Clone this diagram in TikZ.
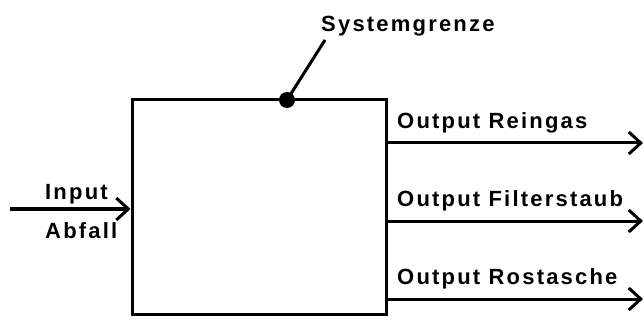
\documentclass[tikz,border=0pt]{standalone}
\usepackage{fontspec}
\setmainfont{Liberation Sans}[LetterSpace=10]
\usetikzlibrary{arrows.meta}
\tikzset{
  flow/.style={line width=3pt, -{Straight Barb[length=12pt,width=22pt,line width=3pt]}},
  lbl/.style={anchor=base west, inner sep=0pt, font=\fontsize{22pt}{24pt}\selectfont\bfseries},
  boundary/.style={draw, line width=3pt, rectangle, inner sep=0pt, minimum width=254pt, minimum height=214pt}
}
\begin{document}
\begin{tikzpicture}[x=1pt,y=-1pt]
  \useasboundingbox (0,0) rectangle (644,320);
  % process box (system boundary)
  \node[boundary] (box) at (259,207) {};
  % boundary marker with its label
  \node[circle, fill, inner sep=0pt, minimum size=16pt] (dot) at (287,100) {};
  \coordinate (lead) at (325,40);
  \draw[line width=3pt] (dot.center) -- (lead);
  \node[lbl] (sg) at (321,32) {Systemgrenze};
  % input
  \coordinate (src) at (10,209);
  \draw[flow] (src) -- (box.west |- src);
  \node[lbl] (in1) at (45,200) {Input};
  \node[lbl] (in2) at (45,238) {Abfall};
  % outputs
  \coordinate (o1) at (643,143);
  \coordinate (o2) at (643,221);
  \coordinate (o3) at (643,299);
  \draw[flow] (box.east |- o1) -- (o1);
  \draw[flow] (box.east |- o2) -- (o2);
  \draw[flow] (box.east |- o3) -- (o3);
  \node[lbl] (t1) at (397,129) {Output Reingas};
  \node[lbl] (t2) at (397,207) {Output Filterstaub};
  \node[lbl] (t3) at (397,284) {Output Rostasche};
\end{tikzpicture}
\end{document}
